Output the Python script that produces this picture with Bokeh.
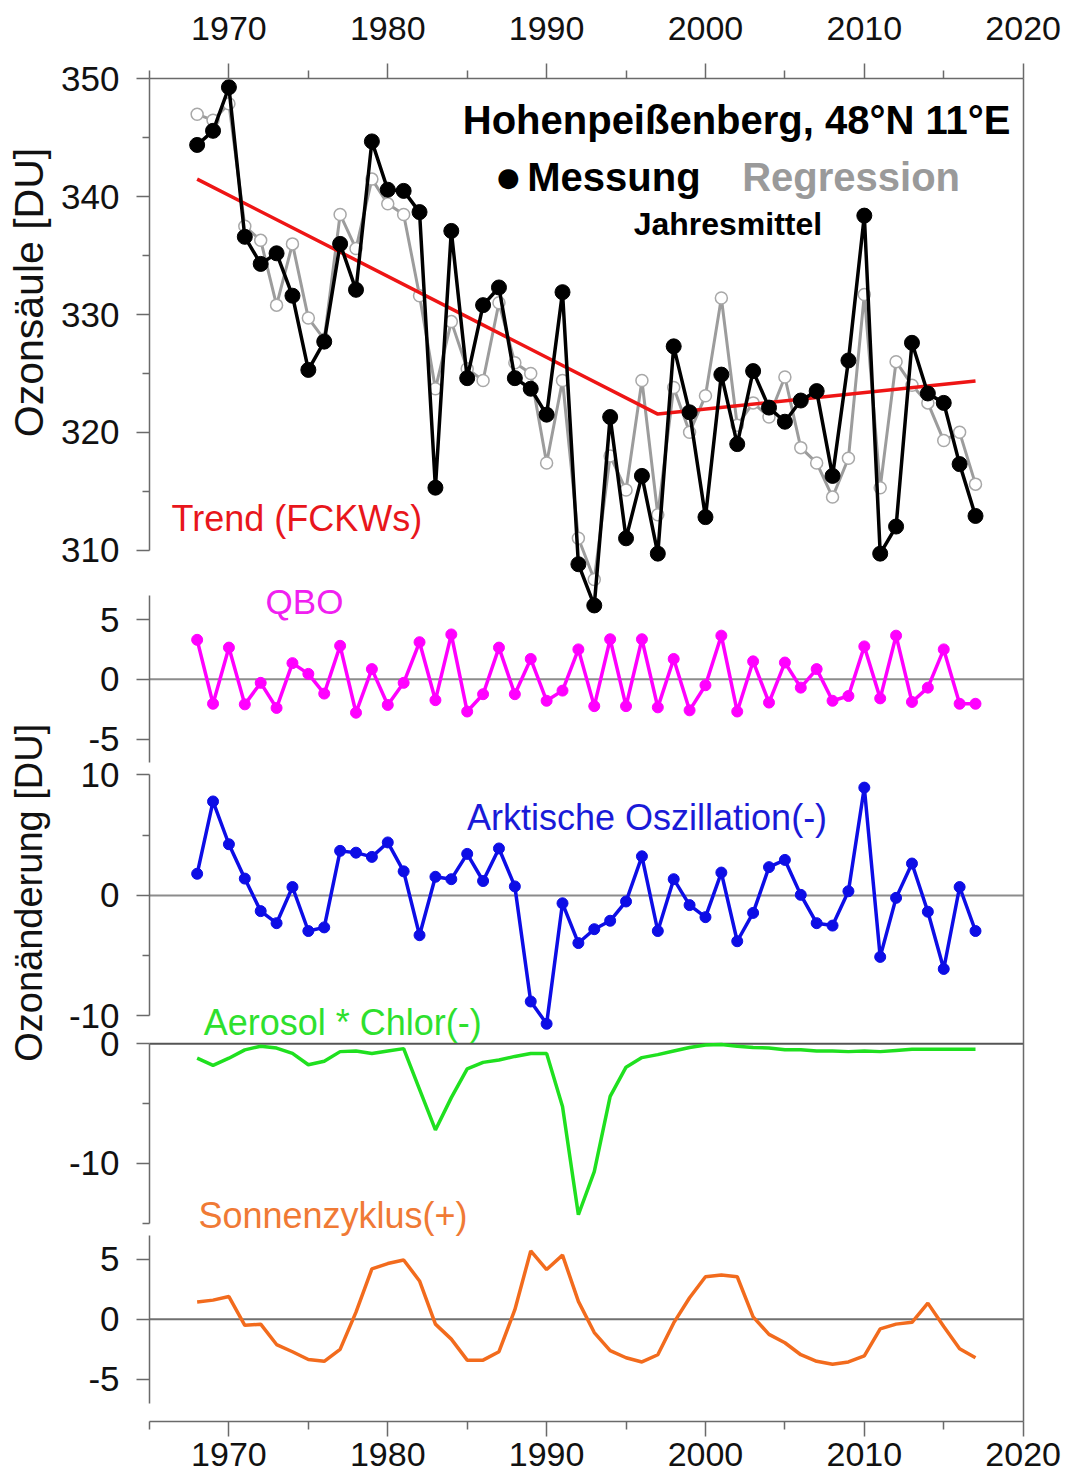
from bokeh.plotting import figure
from bokeh.models import Range1d, LinearAxis, FixedTicker, Label, ColumnDataSource
from bokeh.embed import file_html
from bokeh.resources import INLINE

# ---------------- data ----------------
years = list(range(1968, 2018))
messung = [344.4, 345.6, 349.3, 336.6, 334.3, 335.2, 331.6, 325.3, 327.7, 336.0,
           332.1, 344.7, 340.6, 340.5, 338.7, 315.3, 337.1, 324.6, 330.8, 332.3,
           324.6, 323.7, 321.5, 331.9, 308.8, 305.3, 321.3, 311.0, 316.3, 309.7,
           327.3, 321.7, 312.8, 324.9, 319.0, 325.2, 322.1, 320.9, 322.7, 323.5,
           316.3, 326.1, 338.4, 309.7, 312.0, 327.6, 323.3, 322.5, 317.3, 312.9]
regression = [347.0, 346.5, 347.9, 337.5, 336.3, 330.8, 336.0, 329.7, 327.9, 338.5,
              335.6, 341.5, 339.4, 338.5, 331.6, 323.7, 329.4, 325.4, 324.4, 331.0,
              325.9, 325.0, 317.4, 324.4, 311.0, 307.5, 318.0, 315.1, 324.4, 313.0,
              323.8, 320.0, 323.1, 331.4, 320.6, 322.5, 321.3, 324.7, 318.7, 317.4,
              314.5, 317.8, 331.7, 315.3, 326.0, 324.0, 322.5, 319.3, 320.0, 315.6]
trend_years = [1968, 1997, 2017]
trend = [341.5, 321.55, 324.35]
qbo = [3.3, -2.05, 2.65, -2.1, -0.3, -2.4, 1.35, 0.45, -1.2, 2.8,
       -2.8, 0.85, -2.15, -0.3, 3.1, -1.75, 3.75, -2.7, -1.25, 2.65,
       -1.25, 1.7, -1.8, -0.95, 2.5, -2.25, 3.35, -2.25, 3.35, -2.35,
       1.7, -2.6, -0.5, 3.65, -2.7, 1.5, -1.95, 1.4, -0.7, 0.85,
       -1.8, -1.4, 2.75, -1.6, 3.65, -1.9, -0.7, 2.5, -2.05, -2.05]
ao = [1.8, 7.8, 4.25, 1.4, -1.3, -2.3, 0.7, -2.95, -2.65, 3.7,
      3.55, 3.2, 4.4, 2.0, -3.3, 1.55, 1.35, 3.45, 1.2, 3.9,
      0.75, -8.8, -10.65, -0.65, -3.95, -2.8, -2.1, -0.5, 3.25, -2.95,
      1.35, -0.8, -1.8, 1.9, -3.8, -1.45, 2.35, 2.95, 0.05, -2.3,
      -2.5, 0.35, 8.95, -5.1, -0.2, 2.65, -1.35, -6.1, 0.7, -2.95]
aerosol = [-1.2, -1.8, -1.2, -0.5, -0.2, -0.35, -0.8, -1.75, -1.45, -0.65,
           -0.6, -0.8, -0.6, -0.4, -3.8, -7.2, -4.5, -2.1, -1.55, -1.35,
           -1.05, -0.8, -0.8, -5.25, -14.3, -10.7, -4.4, -1.95, -1.15, -0.9,
           -0.6, -0.3, -0.1, -0.05, -0.2, -0.3, -0.35, -0.5, -0.5, -0.6,
           -0.6, -0.65, -0.6, -0.65, -0.55, -0.45, -0.45, -0.45, -0.45, -0.45]
solar = [1.45, 1.6, 1.9, -0.5, -0.4, -2.1, -2.7, -3.35, -3.5, -2.5,
         0.6, 4.2, 4.65, 4.95, 3.2, -0.4, -1.65, -3.4, -3.4, -2.7,
         0.8, 5.7, 4.15, 5.35, 1.5, -1.1, -2.6, -3.2, -3.55, -2.95,
         -0.3, 1.8, 3.55, 3.7, 3.55, 0.2, -1.25, -1.95, -2.95, -3.5,
         -3.75, -3.55, -3.05, -0.8, -0.4, -0.25, 1.35, -0.6, -2.45, -3.2]
x_ticks = [1970, 1980, 1990, 2000, 2010, 2020]
x_minor_ticks = [1965, 1975, 1985, 1995, 2005, 2015]
ozone_ticks = [310, 320, 330, 340, 350]
ozone_minor = [315, 325, 335, 345]
qbo_ticks = [-5, 0, 5]
ao_ticks = [-10, 0, 10]
ao_minor = [-5, 5]
aer_ticks = [-10, 0]
aer_minor = [-15, -5]
sol_ticks = [-5, 0, 5]

FONT = "Liberation Sans"
AXC = "#6a6a6a"
X_START = x_minor_ticks[0]
X_END = x_ticks[-1]
OZ_TOP = ozone_ticks[-1]
OZ_FRAME_BOTTOM = 235.98     # ozone-scale value of the lower frame edge
MINUS = {-5: "-5", -10: "-10", -15: "-15"}

src = ColumnDataSource(dict(year=years, mess=messung, reg=regression, qbo=qbo,
                            ao=ao, aer=aerosol, sol=solar))

p = figure(width=1070, height=1483, x_range=Range1d(1955.62, 2022.98),
           y_range=Range1d(230.747, 356.665), x_axis_type=None, y_axis_type=None,
           toolbar_location=None, output_backend="svg",
           min_border_left=0, min_border_right=0, min_border_top=0,
           min_border_bottom=0)
p.outline_line_color = None
p.extra_y_ranges = {"qbo": Range1d(-67.30, 56.80), "ao": Range1d(-48.80, 74.27),
                    "aer": Range1d(-36.79, 87.31), "sol": Range1d(-13.68, 109.9)}


def style_axis(ax, size="34px"):
    ax.axis_line_color = AXC
    ax.axis_line_width = 1.5
    ax.major_tick_line_color = AXC
    ax.major_tick_line_width = 1.5
    ax.minor_tick_line_color = AXC
    ax.minor_tick_line_width = 1.5
    ax.major_label_text_font = FONT
    ax.major_label_text_font_size = size
    ax.major_label_text_color = "#111111"
    ax.major_tick_in = 0
    ax.minor_tick_in = 0


def yaxis(rname, major, minor, bounds):
    ax = LinearAxis(y_range_name=rname, fixed_location=X_START, bounds=bounds,
                    ticker=FixedTicker(ticks=major, minor_ticks=minor),
                    major_label_overrides=MINUS)
    style_axis(ax, "35px")
    ax.major_tick_out = 13
    ax.minor_tick_out = 7
    ax.major_label_standoff = 17
    p.add_layout(ax, "left")


yaxis("default", ozone_ticks, ozone_minor, (ozone_ticks[0], OZ_TOP))
yaxis("qbo", qbo_ticks, [], (-7, 7))
yaxis("ao", ao_ticks, ao_minor, (-10, 10))
yaxis("aer", aer_ticks, aer_minor, (-15, 0))
yaxis("sol", sol_ticks, [], (-7, 7))

top = LinearAxis(ticker=FixedTicker(ticks=x_ticks, minor_ticks=x_minor_ticks),
                 bounds=(X_START, X_END), fixed_location=OZ_TOP)
style_axis(top)
top.major_tick_out = 15
top.minor_tick_out = 8
top.major_label_standoff = 24
p.add_layout(top, "above")

bot = LinearAxis(ticker=FixedTicker(ticks=x_ticks, minor_ticks=x_minor_ticks),
                 bounds=(X_START, X_END), fixed_location=OZ_FRAME_BOTTOM)
style_axis(bot)
bot.major_tick_out = 15
bot.minor_tick_out = 8
bot.major_label_standoff = 6
p.add_layout(bot, "below")

right = LinearAxis(ticker=FixedTicker(ticks=[]), fixed_location=X_END,
                   bounds=(OZ_FRAME_BOTTOM, OZ_TOP))
right.axis_line_color = AXC
right.axis_line_width = 1.5
right.major_tick_out = 0
right.minor_tick_out = 0
right.major_tick_in = 0
right.minor_tick_in = 0
right.major_label_text_font_size = "0px"
p.add_layout(right, "right")

# zero lines of the lower panels
for rn, col in [("qbo", "#8c8c8c"), ("ao", "#8c8c8c"), ("aer", "#555555"), ("sol", "#707070")]:
    p.segment(x0=X_START, y0=0, x1=X_END, y1=0, y_range_name=rn,
              line_color=col, line_width=2)

# ozone panel
p.line("year", "reg", source=src, line_color="#9c9c9c", line_width=3)
p.scatter("year", "reg", source=src, marker="circle", size=12, line_color="#a8a8a8",
          line_width=1.5, fill_color="white")
p.line(trend_years, trend, line_color="#ee1515", line_width=3.5)
p.line("year", "mess", source=src, line_color="black", line_width=3.5)
p.scatter("year", "mess", source=src, marker="circle", size=15, color="black")

# QBO
p.line("year", "qbo", source=src, y_range_name="qbo", line_color="#ff00ff", line_width=3.5)
p.scatter("year", "qbo", source=src, y_range_name="qbo", marker="circle", size=11,
          color="#ff00ff")
# AO
p.line("year", "ao", source=src, y_range_name="ao", line_color="#0d0de6", line_width=3.5)
p.scatter("year", "ao", source=src, y_range_name="ao", marker="circle", size=11,
          color="#0d0de6")
# Aerosol
p.line("year", "aer", source=src, y_range_name="aer", line_color="#1fe01f", line_width=3.5)
# Solar
p.line("year", "sol", source=src, y_range_name="sol", line_color="#f26b1d", line_width=3.5)


def lab(x, y, text, rname="default", size="36px", color="black", style="normal",
        align="left", baseline="alphabetic", angle=0, font=FONT):
    p.add_layout(Label(x=x, y=y, text=text, y_range_name=rname, text_font=font,
                       text_font_size=size, text_color=color, text_font_style=style,
                       text_align=align, text_baseline=baseline, angle=angle,
                       angle_units="deg"))


lab(2019.2, 346.56, "Hohenpeißenberg, 48°N 11°E", size="40px", style="bold", align="right")
lab(1987.59, 341.72, "●", size="26px", align="center", baseline="middle", font="DejaVu Sans")
lab(1988.78, 341.64, "Messung", size="40px", style="bold")
lab(2002.31, 341.64, "Regression", size="40px", style="bold", color="#9a9a9a")
lab(1995.48, 337.7, "Jahresmittel", size="32px", style="bold")
lab(1966.39, 312.71, "Trend (FCKWs)", color="#e8161c")
lab(1972.31, 6.53, "QBO", rname="qbo", color="#f020f0", size="35px")
lab(1984.99, 6.49, "Arktische Oszillation(-)", rname="ao", color="#1a1ad8")
lab(1968.41, 1.80, "Aerosol * Chlor(-)", rname="aer", color="#2ee02e")
lab(1968.08, 8.68, "Sonnenzyklus(+)", rname="sol", color="#f07a35")
lab(1957.41, 331.87, "Ozonsäule [DU]", align="center", baseline="middle", angle=90,
    color="#111111", size="41px")
lab(1957.41, 0.66, "Ozonänderung  [DU]", rname="ao", align="center", baseline="middle",
    angle=90, color="#111111", size="38px")

open("out.html", "w").write(file_html(p, INLINE))
